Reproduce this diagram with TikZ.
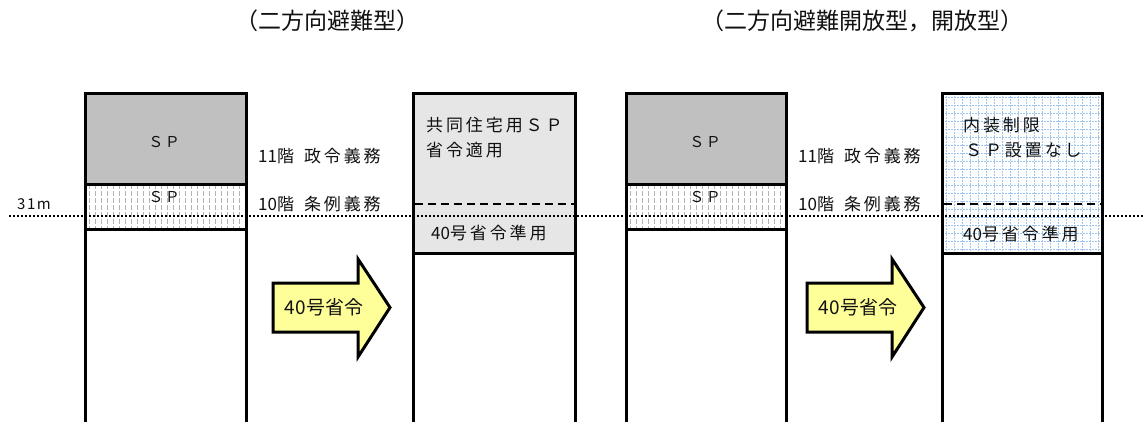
\documentclass[tikz,border=0pt]{standalone}
\usepackage{fontspec}
\setmainfont{Noto Sans CJK JP}
\newfontfamily\jpls[LetterSpace=17]{Noto Sans CJK JP}
\newfontfamily\jpsp[LetterSpace=10]{Noto Sans CJK JP}
\definecolor{spgray}{HTML}{C0C0C0}
\definecolor{dotgray}{HTML}{E6E6E6}
\definecolor{gridblue}{HTML}{9CC4F0}
\definecolor{arrowyellow}{HTML}{FFFF99}
\definecolor{txt}{HTML}{111111}
\newcommand\spaced[1]{{\jpls #1}}
\tikzset{
  boxline/.style={line width=3pt, line join=miter, line cap=rect},
  divline/.style={line width=3pt},
  hatchline/.style={draw=gray!60, line width=1pt, dash pattern=on 5pt off 2pt},
  gridline/.style={draw=gridblue, line width=0.7pt, dash pattern=on 2pt off 1pt},
  levelline/.style={line width=2.2pt, dash pattern=on 2pt off 2pt},
  cutline/.style={line width=2pt, dash pattern=on 8pt off 5pt},
  arrowshape/.style={draw, line width=3pt, fill=arrowyellow, line join=miter},
  titletext/.style={font=\fontsize{23}{26}\selectfont, text=txt, inner sep=0pt},
  sptext/.style={font=\jpsp\fontsize{15}{18}\selectfont, text=txt, inner sep=0pt},
  lbltext/.style={font=\fontsize{17}{20}\selectfont, text=txt, inner sep=0pt, anchor=west},
  arrowtext/.style={font=\fontsize{19}{22}\selectfont, text=txt, inner sep=0pt},
}
\begin{document}
\begin{tikzpicture}[x=1pt,y=-1pt]
\useasboundingbox (0,0) rectangle (1145,421);
\fill[white] (0,0) rectangle (1145,421);

% ---------- titles
\node[titletext] (t1) at (327,21) {（二方向避難型）};
\node[titletext] (t2) at (862,21) {（二方向避難開放型，開放型）};

% ---------- fills
\foreach \xa/\xb in {85/246, 626/786} {
  \fill[spgray] (\xa,93) rectangle (\xb,184);
  \begin{scope}
    \clip (\xa,184) rectangle (\xb,229);
    \foreach \k in {0,...,27} \draw[hatchline] ({\xa+4+6*\k},184) -- ({\xa+4+6*\k},229);
  \end{scope}
}
\fill[dotgray] (413,93) rectangle (575,253);
\begin{scope}
  \clip (942,93) rectangle (1102,253);
  \foreach \k in {0,...,20} \draw[gridline] ({946+8*\k},93) -- ({946+8*\k},253);
  \foreach \k in {0,...,20} \draw[gridline] (942,{97+8*\k}) -- (1102,{97+8*\k});
\end{scope}

% ---------- outlines
\foreach \xa/\xb in {85/246, 626/786} {
  \draw[boxline] (\xa,423) -- (\xa,93) -- (\xb,93) -- (\xb,423);
  \draw[divline] (\xa,184) -- (\xb,184);
  \draw[divline] (\xa,229) -- (\xb,229);
}
\foreach \xa/\xb in {413/575, 942/1102} {
  \draw[boxline] (\xa,423) -- (\xa,93) -- (\xb,93) -- (\xb,423);
  \draw[divline] (\xa,253) -- (\xb,253);
  \draw[cutline] ({\xa+2},204) -- ({\xb-1},204);
}

% ---------- 31 m level line
\coordinate (lvA) at (9,216);
\coordinate (lvB) at (1145,216);
\draw[levelline] (lvA) -- (lvB);
\node[font=\jpsp\fontsize{15}{18}\selectfont, text=txt, inner sep=0pt, anchor=west] (m31) at (17,204) {31m};

% ---------- labels in left boxes
\node[sptext] (spA1) at (164,142) {ＳＰ};
\node[sptext] (spA2) at (164,197) {ＳＰ};
\node[sptext] (spC1) at (705,142) {ＳＰ};
\node[sptext] (spC2) at (705,197) {ＳＰ};

% ---------- floor labels
\node[lbltext] (fA11) at (258,156) {11階\hspace{10pt}\spaced{政令義務}};
\node[lbltext] (fA10) at (258,204) {10階\hspace{10pt}\spaced{条例義務}};
\node[lbltext] (fC11) at (798,156) {11階\hspace{10pt}\spaced{政令義務}};
\node[lbltext] (fC10) at (798,204) {10階\hspace{10pt}\spaced{条例義務}};

% ---------- labels in right boxes
\node[lbltext] (b1) at (426,125) {\spaced{共同住宅用ＳＰ}};
\node[lbltext] (b2) at (426,150) {\spaced{省令適用}};
\node[lbltext] (b3) at (431,233) {40\spaced{号省令準用}};
\node[lbltext] (d1) at (963,125) {\spaced{内装制限}};
\node[lbltext] (d2) at (965,150) {\spaced{ＳＰ設置なし}};
\node[lbltext] (d3) at (963,234) {40\spaced{号省令準用}};

% ---------- arrows
\foreach \dx/\nm in {0/arA, 534/arC} {
  \draw[arrowshape] ({273+\dx},283) -- ({358+\dx},283) -- ({358+\dx},259) -- ({390+\dx},307.5)
     -- ({358+\dx},357) -- ({358+\dx},332) -- ({273+\dx},332) -- cycle;
  \node[arrowtext] (\nm) at ({324+\dx},307) {40号省令};
}
\end{tikzpicture}
\end{document}
